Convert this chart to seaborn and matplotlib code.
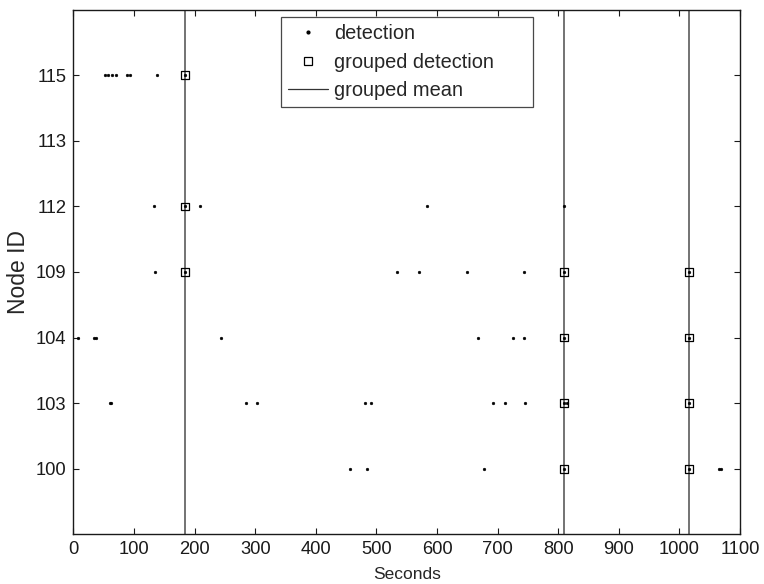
import matplotlib
matplotlib.use("Agg")
import matplotlib.pyplot as plt
from matplotlib.lines import Line2D
import numpy as np
import pandas as pd
import seaborn as sns

# Node IDs shown on the y axis, bottom to top
nodes = [100, 103, 104, 109, 112, 113, 115]

# Individual detections (time in seconds, node id)
det_115 = [52, 58, 64, 70, 88, 94, 138.5, 184]
det_112 = [133, 184, 209, 584, 809]
det_109 = [134, 184, 534, 571, 650, 743, 809.5, 1015.5]
det_104 = [8, 34, 37, 243, 668, 726, 743, 809.5, 1015.5]
det_103 = [60, 62, 285, 303, 481, 491, 692, 712, 745, 809.5, 814, 1015.5]
det_100 = [456, 485, 677, 809.5, 1015.5, 1065, 1068]

# Group means and the nodes belonging to each group
group_means = [184, 809.5, 1015.5]
group_nodes = [[109, 112, 115], [100, 103, 104, 109], [100, 103, 104, 109]]

sns.set_style("ticks")
plt.rcParams["font.family"] = ["Liberation Sans", "DejaVu Sans"]

pos = {n: i for i, n in enumerate(nodes)}

det_rows = []
for node, times in [(115, det_115), (112, det_112), (109, det_109),
                    (104, det_104), (103, det_103), (100, det_100)]:
    for t in times:
        det_rows.append({"t": t, "node": node, "y": pos[node]})
det_df = pd.DataFrame(det_rows)

grp_rows = []
for m, ns in zip(group_means, group_nodes):
    for n in ns:
        grp_rows.append({"t": m, "node": n, "y": pos[n]})
grp_df = pd.DataFrame(grp_rows)

fig = plt.figure(figsize=(7.64, 5.84), dpi=100)
ax = fig.add_axes([0.096, 0.0851, 0.8726, 0.8986])

for m in group_means:
    ax.axvline(m, color="#4d4d4d", lw=1.1, zorder=1)

sns.scatterplot(data=det_df, x="t", y="y", ax=ax, marker="o", s=4,
                color="black", edgecolor="black", linewidth=0.3, zorder=3,
                legend=False)
sns.scatterplot(data=grp_df, x="t", y="y", ax=ax, marker="s", s=30,
                facecolor="none", edgecolor="black", linewidth=0.9, zorder=4,
                legend=False)

ax.set_xlim(0, 1100)
ax.set_ylim(-1, 7)
ax.set_xticks(np.arange(0, 1101, 100))
ax.set_yticks(range(len(nodes)))
ax.set_yticklabels([str(n) for n in nodes])
ax.tick_params(direction="in", length=4.5, width=0.8, labelsize=13.2,
               top=True, right=True, colors="#1a1a1a", pad=5)
for sp in ax.spines.values():
    sp.set_visible(True)
    sp.set_color("#1a1a1a")
    sp.set_linewidth(1.0)

ax.set_xlabel("Seconds", fontsize=12.5, labelpad=6.5)
ax.set_ylabel("Node ID", fontsize=16.5, labelpad=4)

handles = [
    Line2D([], [], ls="none", marker="o", ms=2, color="black"),
    Line2D([], [], ls="none", marker="s", ms=5.5, mfc="none", mec="black", mew=0.9),
    Line2D([], [], color="#333333", lw=0.9),
]
leg = ax.legend(handles, ["detection", "grouped detection", "grouped mean"],
                loc="upper left", bbox_to_anchor=(0.3115, 0.0, 0.3785, 0.985),
                mode="expand", fontsize=14.4,
                frameon=True, fancybox=False, edgecolor="#1a1a1a",
                handlelength=2.0, handletextpad=0.3, borderpad=0.35,
                labelspacing=0.47, borderaxespad=0.0)
leg.get_frame().set_linewidth(0.9)

fig.savefig("out.png", dpi=100, facecolor="white")
